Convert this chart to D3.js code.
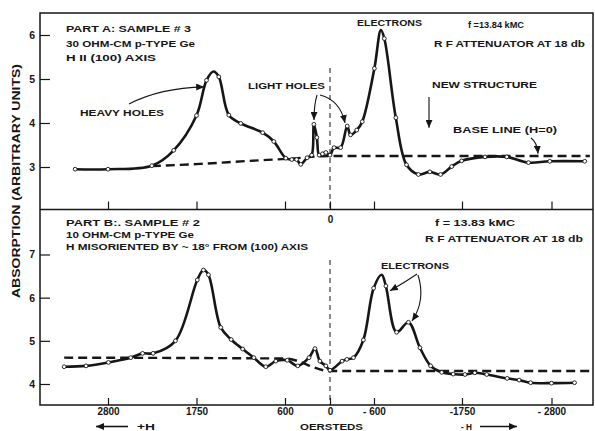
<!DOCTYPE html>
<html>
<head>
<meta charset="utf-8">
<script src="https://cdn.jsdelivr.net/npm/d3@7"></script>
<style>
    body { margin: 0; background: #fff; }
    svg { display: block; }
    text { font-family: 'Liberation Sans', Arial, sans-serif; font-weight: bold; fill: #161616; }
</style>
</head>
<body>
<svg id="chart" width="595" height="431"></svg>
<script>
// ---- data (field in oersteds, absorption in arbitrary units) ----
var fieldA = [3190, 2800, 2280, 2020, 1750, 1620, 1530, 1460, 1330, 1175, 890, 745, 590, 510, 445,
    390, 305, 245, 215, 175, 145, 100, 55, 0, -55, -145, -235, -280, -365, -440, -605, -690, -735,
    -885, -1025, -1180, -1330, -1470, -1615, -1745, -2020, -2275, -2530, -2780, -3190];
var absA = [2.95, 2.95, 3.03, 3.38, 4.17, 4.97, 5.17, 5.05, 4.18, 3.99, 3.78, 3.58, 3.20, 3.17, 3.17,
    3.06, 3.21, 3.27, 3.97, 3.67, 3.27, 3.30, 3.33, 3.27, 3.44, 3.44, 3.93, 3.73, 3.84, 4.03, 5.24, 6.11, 5.92,
    4.12, 3.05, 2.83, 2.89, 2.83, 3.01, 3.14, 3.23, 3.23, 3.10, 3.13, 3.13];
var peakOnlyA = [1530, -690];          // curve passes here but no measured point drawn

var baseFieldA = [2280, 1705, 1056, 533, 0, -3250];
var baseAbsA = [3.02, 3.07, 3.14, 3.19, 3.25, 3.25];

var fieldB = [3320, 3060, 2795, 2530, 2390, 2265, 2000, 1740, 1660, 1595, 1435, 1300, 1150, 1005, 850,
    720, 570, 430, 280, 200, 135, 55, 0, -165, -230, -320, -455, -595, -700, -755, -895, -1050, -1200,
    -1340, -1485, -1635, -1785, -1900, -2040, -2280, -2420, -2555, -2800, -3070];
var absB = [4.40, 4.42, 4.50, 4.61, 4.71, 4.71, 5.00, 6.41, 6.64, 6.53, 5.31, 5.03, 4.81, 4.61, 4.40,
    4.53, 4.55, 4.42, 4.61, 4.82, 4.53, 4.42, 4.32, 4.53, 4.57, 4.61, 5.02, 6.22, 6.53, 6.27, 5.20, 5.43, 4.84,
    4.42, 4.27, 4.23, 4.22, 4.26, 4.22, 4.13, 4.09, 4.03, 4.02, 4.03];
var peakOnlyB = [-700];

var baseFieldB = [3320, 600, 0, -3290];
var baseAbsB = [4.61, 4.59, 4.30, 4.30];

var xTicks = [2800, 1750, 600, 0, -600, -1750, -2800];
var xTickLabels = ['2800', '1750', '600', '0', '- 600', '-1750', '- 2800'];
var yTicksA = [3, 4, 5, 6];
var yTicksB = [4, 5, 6, 7];

// ---- layout ----
var frame = { left: 40, right: 593, top: 13, mid: 209.5, bottom: 405 };
var xTickPos = [108, 196.5, 285, 330, 374, 462, 551.5];   // field sweep is not linear on the chart

var svg = d3.select( '#chart' );
var ink = '#161616';

svg.append( 'defs' ).append( 'marker' )
    .attr( 'id', 'head' )
    .attr( 'markerUnits', 'userSpaceOnUse' )
    .attr( 'markerWidth', 9 ).attr( 'markerHeight', 7 )
    .attr( 'refX', 8 ).attr( 'refY', 3.5 )
    .attr( 'orient', 'auto' )
    .append( 'path' )
    .attr( 'd', 'M0,0 L8,3.5 L0,7 Z' )
    .attr( 'fill', ink );

var x = d3.scaleLinear().domain( xTicks ).range( xTickPos );
var yA = d3.scaleLinear().domain( [3, 6] ).range( [167, 35] );
var yB = d3.scaleLinear().domain( [4, 7] ).range( [384, 254.5] );

// axes (ticks point inward)
function styleAxis( g, size ) {
    g.select( '.domain' ).remove();
    g.selectAll( 'line' ).attr( 'stroke', ink ).attr( 'stroke-width', 1.2 );
    g.selectAll( 'text' )
        .attr( 'fill', ink )
        .style( 'font-family', "'Liberation Sans', Arial, sans-serif" )
        .style( 'font-weight', 'bold' )
        .style( 'font-size', size + 'px' );
}

svg.append( 'g' )
    .attr( 'transform', 'translate(' + frame.left + ',0)' )
    .call( d3.axisLeft( yA ).tickValues( yTicksA ).tickSize( -10 ).tickPadding( 5 ).tickFormat( d3.format( 'd' ) ) )
    .call( g => styleAxis( g, 10.5 ) );

svg.append( 'g' )
    .attr( 'transform', 'translate(' + frame.left + ',0)' )
    .call( d3.axisLeft( yB ).tickValues( yTicksB ).tickSize( -10 ).tickPadding( 5 ).tickFormat( d3.format( 'd' ) ) )
    .call( g => styleAxis( g, 10.5 ) );

svg.append( 'g' )
    .attr( 'transform', 'translate(0,' + frame.mid + ')' )
    .call( d3.axisBottom( x ).tickValues( xTicks ).tickSize( -8 ).tickPadding( 6.5 )
        .tickFormat( d => d === 0 ? '0' : '' ) )
    .call( g => styleAxis( g, 10 ) );

svg.append( 'g' )
    .attr( 'transform', 'translate(0,' + frame.bottom + ')' )
    .call( d3.axisBottom( x ).tickValues( xTicks ).tickSize( -7 ).tickPadding( 2.5 )
        .tickFormat( ( d, i ) => xTickLabels[i] ) )
    .call( g => styleAxis( g, 10 ) );

// frame
svg.append( 'rect' )
    .attr( 'x', frame.left ).attr( 'y', frame.top )
    .attr( 'width', frame.right - frame.left ).attr( 'height', frame.bottom - frame.top )
    .attr( 'fill', 'none' ).attr( 'stroke', ink ).attr( 'stroke-width', 1.5 );
svg.append( 'line' )
    .attr( 'x1', frame.left ).attr( 'x2', frame.right )
    .attr( 'y1', frame.mid ).attr( 'y2', frame.mid )
    .attr( 'stroke', ink ).attr( 'stroke-width', 1.5 );

// H = 0 dashed guides
svg.append( 'line' )
    .attr( 'x1', x( 0 ) ).attr( 'x2', x( 0 ) ).attr( 'y1', 68 ).attr( 'y2', frame.mid )
    .attr( 'stroke', ink ).attr( 'stroke-width', 1 ).attr( 'stroke-dasharray', '5,4' );
svg.append( 'line' )
    .attr( 'x1', x( 0 ) ).attr( 'x2', x( 0 ) ).attr( 'y1', 260 ).attr( 'y2', frame.bottom )
    .attr( 'stroke', ink ).attr( 'stroke-width', 1 ).attr( 'stroke-dasharray', '5,4' );

function drawPanel( fields, values, peaks, baseF, baseV, y ) {
    var pts = fields.map( ( f, i ) => ( { f: f, v: values[i] } ) );
    var base = baseF.map( ( f, i ) => ( { f: f, v: baseV[i] } ) );

    svg.append( 'path' )
        .datum( base )
        .attr( 'd', d3.line().x( d => x( d.f ) ).y( d => y( d.v ) ).curve( d3.curveMonotoneX ) )
        .attr( 'fill', 'none' ).attr( 'stroke', ink )
        .attr( 'stroke-width', 2.4 ).attr( 'stroke-dasharray', '9,5' );

    svg.append( 'path' )
        .datum( pts )
        .attr( 'd', d3.line().x( d => x( d.f ) ).y( d => y( d.v ) ).curve( d3.curveCatmullRom.alpha( 0.5 ) ) )
        .attr( 'fill', 'none' ).attr( 'stroke', ink )
        .attr( 'stroke-width', 2.6 ).attr( 'stroke-linejoin', 'round' );

    svg.append( 'g' )
        .selectAll( 'circle' )
        .data( pts.filter( d => peaks.indexOf( d.f ) < 0 ) )
        .join( 'circle' )
        .attr( 'cx', d => x( d.f ) )
        .attr( 'cy', d => y( d.v ) )
        .attr( 'r', 1.9 )
        .attr( 'fill', '#fff' ).attr( 'stroke', ink ).attr( 'stroke-width', 0.9 );
}

drawPanel( fieldA, absA, peakOnlyA, baseFieldA, baseAbsA, yA );
drawPanel( fieldB, absB, peakOnlyB, baseFieldB, baseAbsB, yB );

// ---- annotations ----
var notes = [
    // [text, x start, baseline, width]
    ['PART A: SAMPLE # 3', 66, 32, 125],
    ['30 OHM-CM p-TYPE Ge', 66, 46.5, 129],
    ['H II (100) AXIS', 66, 61, 90],
    ['HEAVY HOLES', 80, 115.5, 84],
    ['LIGHT HOLES', 248, 89, 77],
    ['ELECTRONS', 357, 25.5, 65],
    ['f =13.84 kMC', 468, 28, 56],
    ['R F ATTENUATOR AT 18 db', 434, 46.5, 151],
    ['NEW STRUCTURE', 432, 88, 105],
    ['BASE LINE (H=0)', 453, 132.5, 104],
    ['PART B:. SAMPLE # 2', 66, 225.5, 134],
    ['10 OHM-CM p-TYPE Ge', 66, 237.5, 128],
    ['H MISORIENTED BY ~ 18\u00b0 FROM (100) AXIS', 66, 249.5, 242],
    ['f = 13.83 kMC', 435, 225.5, 80],
    ['R F ATTENUATOR AT 18 db', 425, 242, 158],
    ['ELECTRONS', 381, 269, 68],
    ['+H', 137, 430, 18],
    ['OERSTEDS', 300, 430, 63],
    ['- H', 461, 430, 11]
];

svg.append( 'g' )
    .selectAll( 'text' )
    .data( notes )
    .join( 'text' )
    .attr( 'x', d => d[1] )
    .attr( 'y', d => d[2] )
    .attr( 'textLength', d => d[3] )
    .attr( 'lengthAdjust', 'spacingAndGlyphs' )
    .style( 'font-size', '9.8px' )
    .text( d => d[0] );

svg.append( 'text' )
    .attr( 'transform', 'translate(20,181) rotate(-90)' )
    .attr( 'text-anchor', 'middle' )
    .attr( 'textLength', 234 )
    .attr( 'lengthAdjust', 'spacingAndGlyphs' )
    .style( 'font-size', '10px' )
    .text( 'ABSORPTION  (ARBITRARY  UNITS)' );

// pointer arrows: start near the label, end on the curve (data units)
var arrows = [
    { from: [129, 104], ctrl: [160, 88], to: [1650, 4.82], y: yA },
    { from: [317, 95], ctrl: [314, 105], to: [213, 4.07], y: yA },
    { from: [320, 95], ctrl: [340, 100], to: [-205, 4.0], y: yA },
    { from: [429, 97], ctrl: [429, 110], to: [-1319, 3.89], y: yA },
    { from: [531, 138], ctrl: [537, 142], to: [-2642, 3.30], y: yA },
    { from: [417, 274], ctrl: [404, 283], to: [-809, 6.16], y: yB },
    { from: [418, 275], ctrl: [426, 300], to: [-1097, 5.46], y: yB }
];

svg.append( 'g' )
    .selectAll( 'path' )
    .data( arrows )
    .join( 'path' )
    .attr( 'd', d => 'M' + d.from[0] + ',' + d.from[1] +
        ' Q' + d.ctrl[0] + ',' + d.ctrl[1] + ' ' + x( d.to[0] ) + ',' + d.y( d.to[1] ) )
    .attr( 'fill', 'none' ).attr( 'stroke', ink ).attr( 'stroke-width', 1.1 )
    .attr( 'marker-end', 'url(#head)' );

// direction arrows under the axis
svg.append( 'line' )
    .attr( 'x1', 128 ).attr( 'x2', 96 ).attr( 'y1', 426.5 ).attr( 'y2', 426.5 )
    .attr( 'stroke', ink ).attr( 'stroke-width', 1.6 ).attr( 'marker-end', 'url(#head)' );
svg.append( 'line' )
    .attr( 'x1', 480 ).attr( 'x2', 517 ).attr( 'y1', 426.5 ).attr( 'y2', 426.5 )
    .attr( 'stroke', ink ).attr( 'stroke-width', 1.6 ).attr( 'marker-end', 'url(#head)' );
</script>
</body>
</html>
